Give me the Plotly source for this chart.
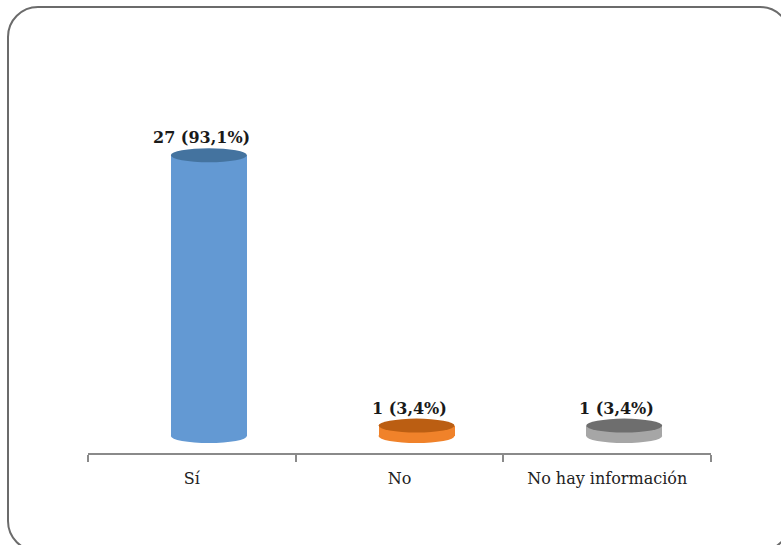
import plotly.graph_objects as go

# Data
categories = ["Sí", "No", "No hay información"]
counts = [27, 1, 1]
percents = [93.1, 3.4, 3.4]

body_colors = ["#6399D3", "#F0822A", "#A6A6A6"]
cap_colors = ["#44739F", "#BB5E12", "#6E6E6E"]

# Layout geometry (pixels)
W, H = 781, 545
L, R, T, B = 88, 70, 40, 92
PW, PH = W - L - R, H - T - B
PX_PER_UNIT = 10.4
ZERO_PX = 436  # pixel row of the value 0
plot_bottom = H - B
ymin = -(plot_bottom - ZERO_PX) / PX_PER_UNIT
ymax = (ZERO_PX - T) / PX_PER_UNIT

bar_w = 0.366       # category units
bar_shift = 0.082   # depth offset of the cylinders
cap_h = 7 / PX_PER_UNIT  # half-height of the elliptical caps (value units)
label_shift = 0.046

fig = go.Figure()
fig.add_trace(go.Bar(
    x=categories, y=counts,
    width=bar_w, offset=bar_shift - bar_w / 2,
    marker=dict(color=body_colors, line=dict(width=0)),
    hoverinfo="skip", showlegend=False,
))

shapes = []
annotations = []
for i, (v, p) in enumerate(zip(counts, percents)):
    cx = i + bar_shift
    x0, x1 = cx - bar_w / 2, cx + bar_w / 2
    # bottom cap
    shapes.append(dict(type="circle", xref="x", yref="y", x0=x0, x1=x1,
                       y0=-cap_h, y1=cap_h, fillcolor=body_colors[i],
                       line=dict(width=0), layer="below"))
    # top cap
    shapes.append(dict(type="circle", xref="x", yref="y", x0=x0, x1=x1,
                       y0=v - cap_h, y1=v + cap_h, fillcolor=cap_colors[i],
                       line=dict(width=0), layer="above"))
    label = f"{v} ({p:.1f}%)".replace(".", ",")
    annotations.append(dict(x=i + label_shift, y=v + cap_h, xref="x", yref="y",
                            text=f"<b>{label}</b>", showarrow=False,
                            yanchor="bottom", yshift=-1,
                            font=dict(family="DejaVu Serif", size=16, color="#1a1a1a")))


# Rounded outer frame, in paper coordinates
def to_paper(px, py):
    return (px - L) / PW, (plot_bottom - py) / PH


fx0, fy0, fx1, fy1, rad = 8, 7, 790, 551, 30
k = 0.5523 * rad
pts = [
    ("M", [(fx0 + rad, fy0)]),
    ("L", [(fx1 - rad, fy0)]),
    ("C", [(fx1 - rad + k, fy0), (fx1, fy0 + rad - k), (fx1, fy0 + rad)]),
    ("L", [(fx1, fy1 - rad)]),
    ("C", [(fx1, fy1 - rad + k), (fx1 - rad + k, fy1), (fx1 - rad, fy1)]),
    ("L", [(fx0 + rad, fy1)]),
    ("C", [(fx0 + rad - k, fy1), (fx0, fy1 - rad + k), (fx0, fy1 - rad)]),
    ("L", [(fx0, fy0 + rad)]),
    ("C", [(fx0, fy0 + rad - k), (fx0 + rad - k, fy0), (fx0 + rad, fy0)]),
]
path = ""
for cmd, coords in pts:
    path += cmd + " " + " ".join(f"{to_paper(a, b)[0]:.5f},{to_paper(a, b)[1]:.5f}" for a, b in coords) + " "
path += "Z"
shapes.append(dict(type="path", xref="paper", yref="paper", path=path,
                   line=dict(color="#6b6b6b", width=2), fillcolor="rgba(0,0,0,0)",
                   layer="below"))

fig.update_layout(
    width=W, height=H,
    margin=dict(l=L, r=R, t=T, b=B),
    paper_bgcolor="white", plot_bgcolor="white",
    shapes=shapes, annotations=annotations,
    bargap=0,
    xaxis=dict(
        type="category", range=[-0.5, 2.5],
        showline=True, linecolor="#8a8a8a", linewidth=1.5,
        ticks="outside", tickson="boundaries", ticklen=7, tickwidth=1.5,
        tickcolor="#8a8a8a", showgrid=False, zeroline=False,
        ticklabelstandoff=10,
        tickfont=dict(family="DejaVu Serif", size=16, color="#222222"),
    ),
    yaxis=dict(range=[ymin, ymax], visible=False, showgrid=False, zeroline=False),
)

fig.write_html("out.html")
